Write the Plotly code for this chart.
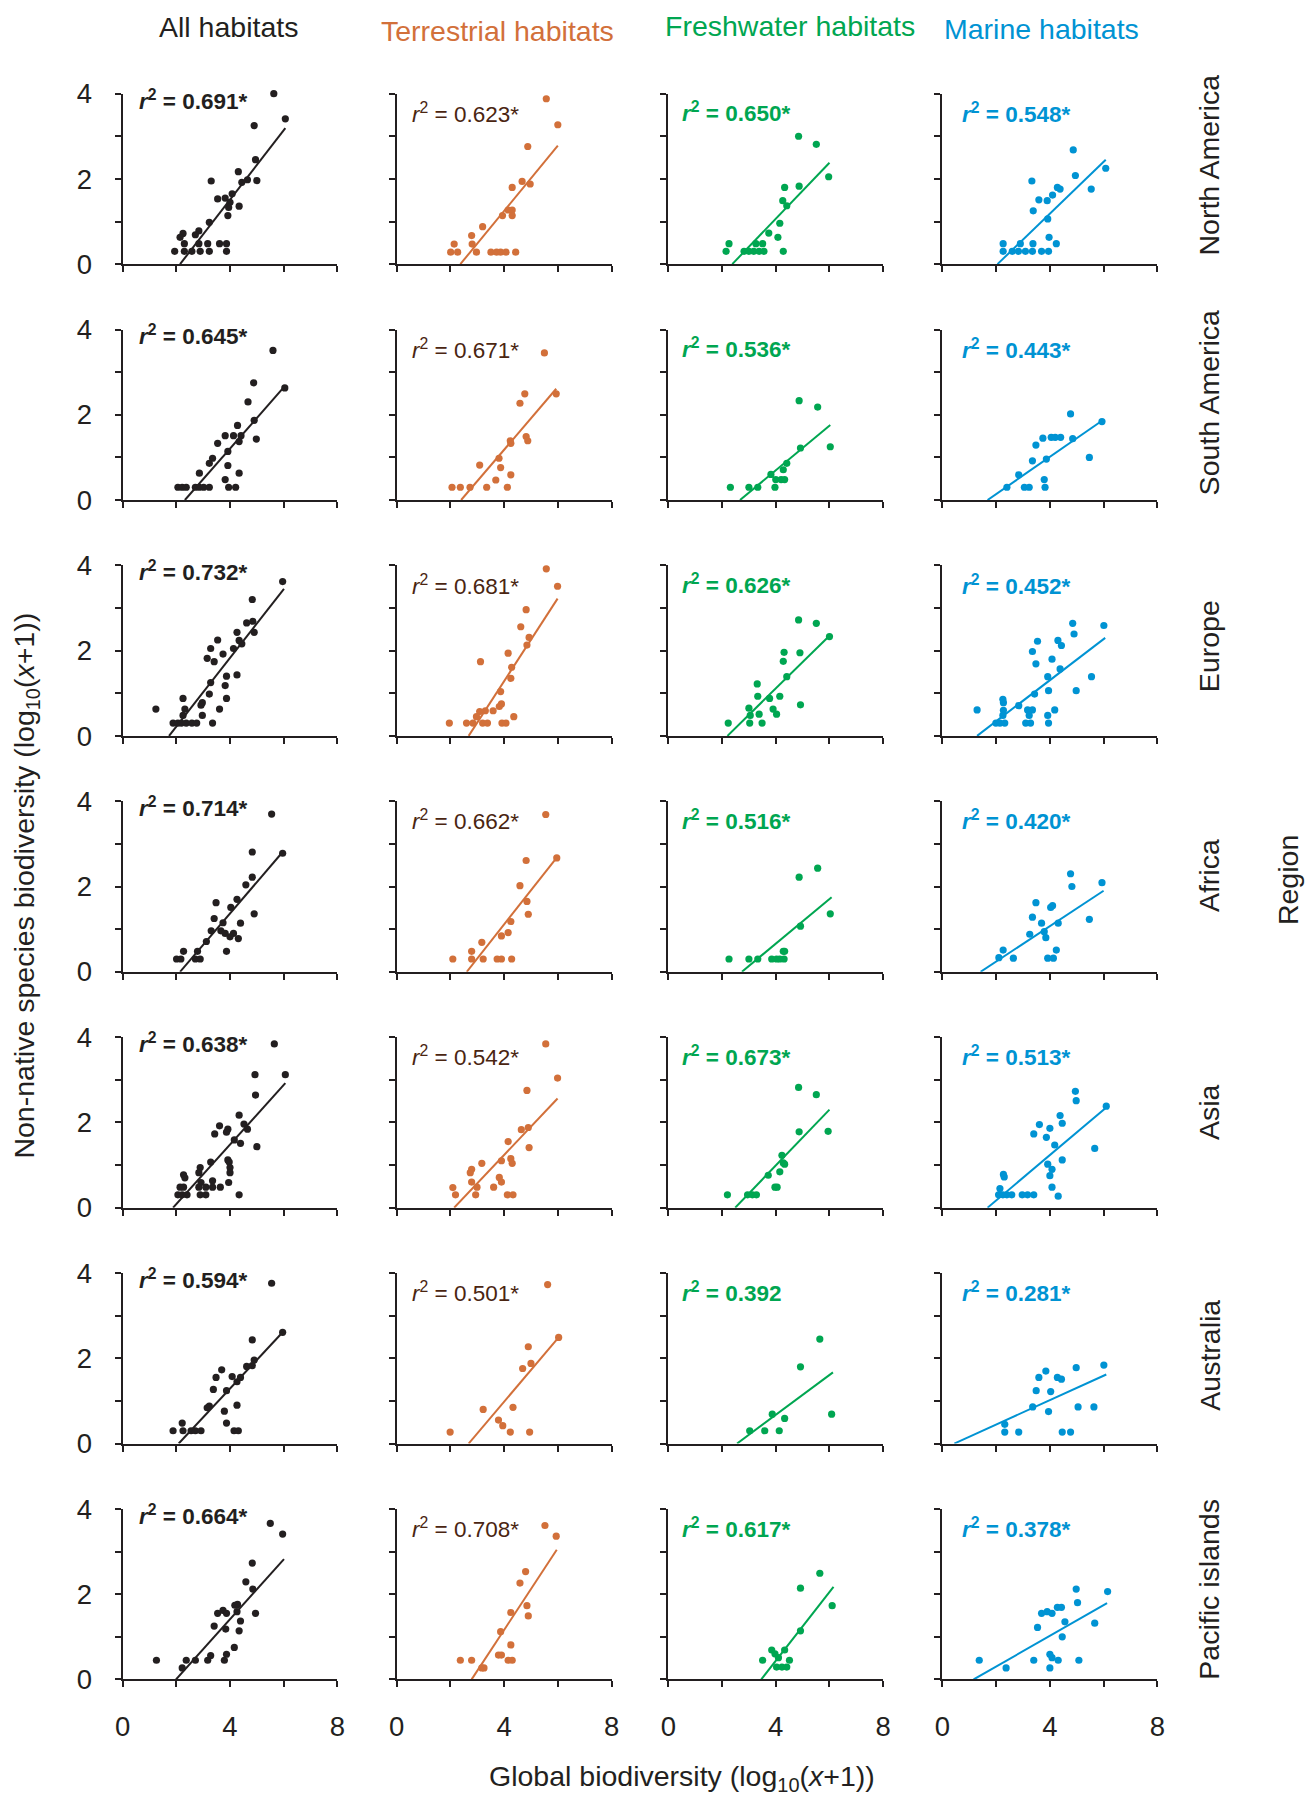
import plotly.graph_objects as go

# ---------------- categories ----------------
HABITATS = ["All habitats", "Terrestrial habitats", "Freshwater habitats", "Marine habitats"]
REGIONS = ["North America", "South America", "Europe", "Africa", "Asia", "Australia", "Pacific islands"]
X_TICKS = [0, 2, 4, 6, 8]
X_TICKTEXT = ["0", "", "4", "", "8"]
Y_TICKS = [0, 1, 2, 3, 4]
Y_TICKTEXT = ["0", "", "2", "", "4"]

# ---------------- North America ----------------
NA_ALL_X = [5.63, 6.06, 4.9, 4.95, 4.31, 4.44, 4.65, 5.0, 3.3, 4.08, 3.54, 3.82, 4.0, 4.34, 3.95, 3.92, 3.23, 2.84, 2.25, 2.14, 2.71, 2.3, 2.84, 3.17, 3.61, 3.87, 1.94, 2.3, 2.58, 2.89, 3.23, 3.87]
NA_ALL_Y = [4.0, 3.41, 3.25, 2.45, 2.17, 1.92, 1.98, 1.96, 1.95, 1.65, 1.53, 1.55, 1.45, 1.36, 1.33, 1.14, 0.98, 0.78, 0.72, 0.63, 0.69, 0.48, 0.48, 0.48, 0.48, 0.48, 0.3, 0.3, 0.3, 0.3, 0.3, 0.3]
NA_TER_X = [5.57, 6.0, 4.88, 4.67, 4.97, 4.3, 4.15, 4.3, 4.3, 3.94, 3.2, 2.79, 2.14, 2.81, 2.01, 2.27, 2.97, 3.51, 3.72, 3.87, 4.07, 4.43]
NA_TER_Y = [3.88, 3.27, 2.76, 1.94, 1.88, 1.8, 1.27, 1.27, 1.14, 1.14, 0.88, 0.67, 0.47, 0.47, 0.28, 0.28, 0.28, 0.28, 0.28, 0.28, 0.28, 0.28]
NA_FW_X = [4.85, 5.51, 5.97, 4.33, 4.87, 4.26, 4.41, 4.15, 3.74, 4.08, 2.26, 3.26, 3.51, 2.15, 2.82, 3.0, 3.18, 3.38, 3.56, 4.28]
NA_FW_Y = [3.0, 2.81, 2.05, 1.8, 1.83, 1.49, 1.37, 0.96, 0.73, 0.63, 0.48, 0.48, 0.48, 0.3, 0.3, 0.3, 0.3, 0.3, 0.3, 0.3]
NA_MAR_X = [4.87, 6.08, 4.95, 5.54, 3.33, 4.28, 4.38, 4.1, 3.59, 3.9, 3.38, 3.92, 3.97, 2.26, 2.9, 3.37, 4.24, 2.26, 2.6, 2.83, 3.09, 3.35, 3.69, 3.95]
NA_MAR_Y = [2.68, 2.25, 2.08, 1.76, 1.95, 1.8, 1.76, 1.62, 1.51, 1.49, 1.25, 1.06, 0.63, 0.48, 0.48, 0.48, 0.48, 0.3, 0.3, 0.3, 0.3, 0.3, 0.3, 0.3]
NA_LINE_X0 = [2.14, 2.37, 2.38, 2.05]
NA_LINE_X1 = [6.06, 6.0, 6.0, 6.08]
NA_LINE_Y1 = [3.19, 2.78, 2.38, 2.45]
NA_R2 = ["0.691*", "0.623*", "0.650*", "0.548*"]

# ---------------- South America ----------------
SA_ALL_X = [5.6, 6.04, 4.88, 4.67, 4.9, 4.28, 3.82, 4.13, 4.41, 3.54, 4.34, 4.98, 3.92, 3.35, 3.23, 3.92, 2.86, 4.34, 3.82, 2.06, 2.22, 2.37, 2.71, 2.86, 3.02, 3.23, 3.95, 4.21]
SA_ALL_Y = [3.51, 2.63, 2.75, 2.3, 1.87, 1.75, 1.51, 1.51, 1.51, 1.33, 1.37, 1.43, 1.14, 0.98, 0.86, 0.81, 0.63, 0.63, 0.48, 0.3, 0.3, 0.3, 0.3, 0.3, 0.3, 0.3, 0.3, 0.3]
SA_TER_X = [5.5, 5.94, 4.77, 4.59, 4.82, 4.88, 4.23, 4.25, 3.81, 3.09, 3.87, 4.25, 3.69, 2.06, 2.37, 2.73, 3.35, 4.12]
SA_TER_Y = [3.45, 2.49, 2.49, 2.27, 1.49, 1.39, 1.39, 1.33, 0.98, 0.82, 0.76, 0.59, 0.47, 0.3, 0.3, 0.3, 0.3, 0.3]
SA_FW_X = [4.87, 5.56, 6.03, 4.92, 4.41, 4.28, 3.82, 4.0, 4.2, 4.33, 2.31, 3.0, 3.33, 3.97]
SA_FW_Y = [2.33, 2.18, 1.25, 1.22, 0.86, 0.71, 0.6, 0.48, 0.48, 0.48, 0.3, 0.3, 0.3, 0.3]
SA_MAR_X = [4.77, 5.94, 4.05, 4.2, 4.4, 4.85, 3.74, 3.48, 5.47, 3.87, 3.35, 2.84, 3.79, 2.4, 3.05, 3.23, 3.82]
SA_MAR_Y = [2.02, 1.84, 1.47, 1.47, 1.47, 1.44, 1.45, 1.29, 1.0, 0.96, 0.92, 0.59, 0.48, 0.3, 0.3, 0.3, 0.3]
SA_LINE_X0 = [2.32, 2.4, 2.67, 1.68]
SA_LINE_X1 = [6.04, 5.94, 6.03, 5.94]
SA_LINE_Y1 = [2.67, 2.61, 1.76, 1.86]
SA_R2 = ["0.645*", "0.671*", "0.536*", "0.443*"]

# ---------------- Europe ----------------
EU_ALL_X = [5.55, 5.96, 4.83, 4.85, 4.62, 4.26, 4.34, 4.44, 4.9, 3.54, 3.28, 4.13, 3.74, 3.15, 3.41, 4.26, 3.87, 3.82, 3.28, 3.23, 3.87, 2.97, 2.25, 2.92, 3.61, 2.32, 1.24, 2.97, 2.25, 3.35, 1.88, 2.06, 2.19, 2.37, 2.58, 2.76]
EU_ALL_Y = [4.02, 3.62, 3.2, 2.69, 2.65, 2.43, 2.24, 2.16, 2.43, 2.25, 2.05, 2.05, 1.92, 1.82, 1.74, 1.43, 1.4, 1.18, 1.25, 0.98, 0.88, 0.78, 0.88, 0.72, 0.63, 0.63, 0.63, 0.48, 0.48, 0.3, 0.3, 0.3, 0.3, 0.3, 0.3, 0.3]
EU_TER_X = [5.57, 5.99, 4.82, 4.62, 4.93, 4.85, 3.12, 4.15, 4.28, 4.25, 3.87, 3.9, 3.82, 3.59, 3.09, 3.3, 2.97, 4.36, 1.96, 2.6, 2.84, 3.2, 3.38, 3.92, 4.07]
EU_TER_Y = [3.92, 3.51, 2.96, 2.56, 2.31, 2.13, 1.74, 1.94, 1.61, 1.35, 1.04, 0.75, 0.69, 0.59, 0.57, 0.59, 0.45, 0.45, 0.3, 0.3, 0.3, 0.3, 0.3, 0.3, 0.3]
EU_FW_X = [4.85, 5.51, 6.0, 4.31, 4.9, 4.28, 4.41, 3.31, 4.15, 3.33, 3.77, 4.92, 3.0, 3.9, 3.38, 4.03, 3.05, 2.23, 3.03, 3.49]
EU_FW_Y = [2.72, 2.64, 2.33, 1.96, 1.95, 1.75, 1.39, 1.22, 0.93, 0.93, 0.88, 0.73, 0.65, 0.63, 0.51, 0.51, 0.48, 0.3, 0.3, 0.3]
EU_MAR_X = [4.85, 6.01, 4.9, 3.54, 4.3, 4.43, 3.35, 4.08, 3.48, 4.38, 3.92, 5.55, 3.95, 4.98, 3.43, 2.25, 2.27, 1.29, 2.84, 2.27, 3.17, 3.35, 4.18, 2.25, 3.23, 3.92, 1.99, 2.14, 2.32, 3.1, 3.28, 3.95]
EU_MAR_Y = [2.64, 2.59, 2.39, 2.22, 2.24, 2.12, 1.98, 1.8, 1.69, 1.57, 1.39, 1.39, 1.06, 1.06, 0.98, 0.86, 0.78, 0.61, 0.71, 0.6, 0.61, 0.61, 0.61, 0.48, 0.48, 0.48, 0.3, 0.3, 0.3, 0.3, 0.3, 0.3]
EU_LINE_X0 = [1.73, 2.68, 2.2, 1.29]
EU_LINE_X1 = [6.01, 5.99, 6.0, 6.06]
EU_LINE_Y1 = [3.45, 3.22, 2.35, 2.3]
EU_R2 = ["0.732*", "0.681*", "0.626*", "0.452*"]

# ---------------- Africa ----------------
AF_ALL_X = [5.55, 4.83, 5.96, 4.83, 4.59, 4.26, 3.48, 4.03, 4.9, 3.41, 3.74, 4.39, 3.3, 3.66, 3.82, 4.13, 4.0, 4.31, 3.12, 3.87, 2.79, 2.27, 2.01, 2.17, 2.71, 2.89]
AF_ALL_Y = [3.7, 2.81, 2.78, 2.22, 2.04, 1.7, 1.62, 1.51, 1.36, 1.25, 1.15, 1.14, 0.96, 0.96, 0.9, 0.9, 0.82, 0.78, 0.71, 0.48, 0.48, 0.48, 0.3, 0.3, 0.3, 0.3]
AF_TER_X = [5.55, 4.82, 5.96, 4.59, 4.85, 4.9, 4.25, 4.15, 3.9, 3.17, 2.79, 2.09, 2.79, 3.22, 3.74, 3.9, 4.28]
AF_TER_Y = [3.69, 2.61, 2.67, 2.02, 1.65, 1.35, 1.18, 0.92, 0.84, 0.69, 0.48, 0.3, 0.3, 0.3, 0.3, 0.3, 0.3]
AF_FW_X = [5.56, 4.87, 6.03, 4.92, 4.28, 4.33, 2.26, 3.0, 3.33, 3.85, 4.03, 4.15, 4.31]
AF_FW_Y = [2.43, 2.22, 1.36, 1.07, 0.48, 0.48, 0.3, 0.3, 0.3, 0.3, 0.3, 0.3, 0.3]
AF_MAR_X = [4.77, 5.94, 4.82, 3.48, 4.1, 4.03, 3.35, 5.47, 3.69, 4.31, 3.79, 3.25, 3.85, 4.24, 2.26, 2.1, 2.64, 3.92, 4.13]
AF_MAR_Y = [2.3, 2.09, 2.0, 1.62, 1.55, 1.51, 1.28, 1.23, 1.14, 1.14, 0.94, 0.88, 0.8, 0.51, 0.51, 0.33, 0.32, 0.32, 0.32]
AF_LINE_X0 = [2.14, 2.61, 2.74, 1.42]
AF_LINE_X1 = [5.96, 5.96, 6.08, 6.0]
AF_LINE_Y1 = [2.81, 2.68, 1.75, 1.9]
AF_R2 = ["0.714*", "0.662*", "0.516*", "0.420*"]

# ---------------- Asia ----------------
AS_ALL_X = [5.65, 4.93, 6.06, 4.95, 4.34, 4.52, 4.65, 3.61, 3.92, 3.43, 3.87, 4.16, 4.39, 5.0, 3.92, 3.97, 3.28, 2.89, 4.0, 2.84, 4.0, 2.27, 2.32, 3.35, 3.95, 2.92, 3.1, 3.35, 3.64, 2.14, 2.27, 2.84, 4.34, 2.06, 2.22, 2.4, 2.89, 3.1]
AS_ALL_Y = [3.84, 3.12, 3.12, 2.64, 2.17, 1.96, 1.84, 1.92, 1.84, 1.73, 1.77, 1.59, 1.51, 1.43, 1.12, 1.07, 1.07, 0.94, 0.94, 0.82, 0.82, 0.77, 0.7, 0.63, 0.59, 0.59, 0.48, 0.48, 0.48, 0.48, 0.48, 0.48, 0.3, 0.3, 0.3, 0.3, 0.3, 0.3]
AS_TER_X = [5.55, 5.99, 4.85, 4.64, 4.9, 4.15, 4.93, 4.25, 4.3, 3.9, 3.17, 2.79, 2.74, 3.82, 2.79, 3.9, 2.09, 2.99, 3.61, 2.19, 2.94, 4.12, 4.33]
AS_TER_Y = [3.84, 3.04, 2.75, 1.83, 1.88, 1.55, 1.41, 1.15, 1.04, 1.1, 1.04, 0.9, 0.82, 0.71, 0.6, 0.6, 0.47, 0.48, 0.48, 0.3, 0.3, 0.3, 0.3]
AS_FW_X = [4.85, 5.51, 4.87, 5.95, 4.23, 4.33, 4.28, 3.72, 4.15, 3.97, 4.05, 2.2, 2.95, 3.13, 3.28]
AS_FW_Y = [2.82, 2.65, 1.78, 1.79, 1.23, 1.02, 1.05, 0.76, 0.84, 0.48, 0.48, 0.3, 0.3, 0.3, 0.3]
AS_MAR_X = [4.95, 4.98, 6.1, 4.38, 4.46, 3.61, 4.0, 3.4, 3.87, 4.18, 5.67, 4.46, 3.92, 4.08, 4.0, 2.27, 2.3, 4.08, 2.14, 4.31, 2.09, 2.25, 2.4, 2.58, 2.97, 3.17, 3.4]
AS_MAR_Y = [2.73, 2.51, 2.38, 2.16, 1.98, 1.95, 1.86, 1.73, 1.65, 1.47, 1.39, 1.12, 1.02, 0.9, 0.75, 0.78, 0.72, 0.48, 0.45, 0.27, 0.3, 0.3, 0.3, 0.3, 0.3, 0.3, 0.3]
AS_LINE_X0 = [1.88, 2.14, 2.49, 1.68]
AS_LINE_X1 = [6.06, 5.99, 6.0, 6.1]
AS_LINE_Y1 = [2.92, 2.56, 2.3, 2.35]
AS_R2 = ["0.638*", "0.542*", "0.673*", "0.513*"]

# ---------------- Australia ----------------
AU_ALL_X = [5.55, 5.96, 4.83, 4.83, 4.62, 4.9, 3.69, 4.08, 4.39, 3.48, 4.26, 3.38, 3.87, 3.23, 3.15, 4.26, 3.79, 3.87, 2.22, 1.88, 2.25, 2.55, 2.71, 2.92, 4.15, 4.31]
AU_ALL_Y = [3.76, 2.61, 2.43, 1.83, 1.81, 1.96, 1.73, 1.57, 1.55, 1.55, 1.45, 1.27, 1.24, 0.88, 0.84, 0.9, 0.76, 0.48, 0.48, 0.3, 0.3, 0.3, 0.3, 0.3, 0.3, 0.3]
AU_TER_X = [5.62, 6.03, 4.9, 5.0, 4.69, 4.33, 3.22, 3.79, 3.95, 1.99, 4.23, 4.95]
AU_TER_Y = [3.73, 2.49, 2.27, 1.88, 1.76, 0.85, 0.8, 0.55, 0.42, 0.27, 0.27, 0.27]
AU_FW_X = [5.64, 4.92, 3.87, 6.08, 4.33, 3.03, 3.59, 4.13]
AU_FW_Y = [2.45, 1.8, 0.69, 0.69, 0.59, 0.3, 0.3, 0.3]
AU_MAR_X = [6.01, 4.98, 3.85, 3.59, 4.28, 4.43, 3.49, 4.03, 3.36, 5.05, 5.64, 3.95, 2.32, 2.32, 2.84, 4.46, 4.77]
AU_MAR_Y = [1.84, 1.78, 1.7, 1.55, 1.55, 1.51, 1.24, 1.22, 0.86, 0.86, 0.86, 0.75, 0.45, 0.27, 0.27, 0.27, 0.27]
AU_LINE_X0 = [2.09, 2.68, 2.56, 0.44]
AU_LINE_X1 = [5.96, 6.03, 6.13, 6.1]
AU_LINE_Y1 = [2.61, 2.49, 1.67, 1.62]
AU_R2 = ["0.594*", "0.501*", "0.392", "0.281*"]

# ---------------- Pacific islands ----------------
PI_ALL_X = [5.5, 5.96, 4.83, 4.59, 4.85, 4.18, 4.28, 3.74, 3.54, 3.87, 4.26, 4.95, 4.39, 3.41, 3.84, 4.34, 4.16, 3.87, 3.79, 3.28, 3.17, 2.71, 2.37, 1.26, 2.22]
PI_ALL_Y = [3.66, 3.41, 2.73, 2.29, 2.12, 1.74, 1.76, 1.62, 1.55, 1.55, 1.59, 1.55, 1.37, 1.25, 1.18, 1.14, 0.75, 0.59, 0.45, 0.56, 0.45, 0.45, 0.45, 0.45, 0.27]
PI_TER_X = [5.52, 5.94, 4.8, 4.59, 4.85, 4.25, 4.9, 3.87, 4.25, 3.79, 3.9, 2.37, 2.79, 4.15, 4.3, 3.17, 3.25]
PI_TER_Y = [3.61, 3.36, 2.53, 2.26, 1.73, 1.57, 1.49, 1.12, 0.81, 0.57, 0.57, 0.45, 0.45, 0.45, 0.45, 0.27, 0.27]
PI_FW_X = [5.64, 4.92, 6.1, 4.92, 3.85, 3.97, 4.33, 3.51, 4.51, 4.1, 4.03, 4.23, 4.41]
PI_FW_Y = [2.49, 2.14, 1.73, 1.14, 0.69, 0.6, 0.69, 0.45, 0.45, 0.51, 0.29, 0.29, 0.29]
PI_MAR_X = [4.98, 6.15, 5.03, 4.28, 4.43, 3.69, 3.9, 4.08, 4.56, 5.67, 3.54, 4.46, 4.0, 4.08, 3.4, 4.31, 5.08, 1.37, 2.37, 4.0]
PI_MAR_Y = [2.12, 2.06, 1.8, 1.69, 1.69, 1.55, 1.59, 1.55, 1.35, 1.32, 1.22, 1.0, 0.59, 0.51, 0.45, 0.45, 0.45, 0.45, 0.27, 0.27]
PI_LINE_X0 = [1.99, 2.79, 3.46, 1.16]
PI_LINE_X1 = [6.01, 5.96, 6.15, 6.13]
PI_LINE_Y1 = [2.82, 3.04, 2.17, 1.79]
PI_R2 = ["0.664*", "0.708*", "0.617*", "0.378*"]

# ---------------- assemble ----------------
PANELS_X = [
    [NA_ALL_X, NA_TER_X, NA_FW_X, NA_MAR_X],
    [SA_ALL_X, SA_TER_X, SA_FW_X, SA_MAR_X],
    [EU_ALL_X, EU_TER_X, EU_FW_X, EU_MAR_X],
    [AF_ALL_X, AF_TER_X, AF_FW_X, AF_MAR_X],
    [AS_ALL_X, AS_TER_X, AS_FW_X, AS_MAR_X],
    [AU_ALL_X, AU_TER_X, AU_FW_X, AU_MAR_X],
    [PI_ALL_X, PI_TER_X, PI_FW_X, PI_MAR_X],
]
PANELS_Y = [
    [NA_ALL_Y, NA_TER_Y, NA_FW_Y, NA_MAR_Y],
    [SA_ALL_Y, SA_TER_Y, SA_FW_Y, SA_MAR_Y],
    [EU_ALL_Y, EU_TER_Y, EU_FW_Y, EU_MAR_Y],
    [AF_ALL_Y, AF_TER_Y, AF_FW_Y, AF_MAR_Y],
    [AS_ALL_Y, AS_TER_Y, AS_FW_Y, AS_MAR_Y],
    [AU_ALL_Y, AU_TER_Y, AU_FW_Y, AU_MAR_Y],
    [PI_ALL_Y, PI_TER_Y, PI_FW_Y, PI_MAR_Y],
]
LINES_X0 = [NA_LINE_X0, SA_LINE_X0, EU_LINE_X0, AF_LINE_X0, AS_LINE_X0, AU_LINE_X0, PI_LINE_X0]
LINES_X1 = [NA_LINE_X1, SA_LINE_X1, EU_LINE_X1, AF_LINE_X1, AS_LINE_X1, AU_LINE_X1, PI_LINE_X1]
LINES_Y1 = [NA_LINE_Y1, SA_LINE_Y1, EU_LINE_Y1, AF_LINE_Y1, AS_LINE_Y1, AU_LINE_Y1, PI_LINE_Y1]
R2_LABELS = [NA_R2, SA_R2, EU_R2, AF_R2, AS_R2, AU_R2, PI_R2]

# ---------------- styles / layout geometry (pixels) ----------------
W, H = 1311, 1805
FONT = "Liberation Sans, Arial, Helvetica, sans-serif"
INK = "#231F20"
DOT_COLORS = ["#231F20", "#D2703A", "#00A651", "#0093D3"]
TITLE_COLORS = ["#231F20", "#D2703A", "#00A651", "#0093D3"]
R2_COLORS = ["#231F20", "#4A2511", "#00A651", "#0093D3"]
R2_BOLD = [True, False, True, True]
COL_LEFT_PX = [116, 393.5, 668.5, 946]
PANEL_W_PX = 217.5
ROW_TOP_PX = 80
ROW_STEP_PX = 240
PANEL_H_PX = 173.5
TITLE_X_PX = [223, 496, 792, 1046]
TITLE_Y_PX = [12, 16, 11, 14]
ROWLAB_X_PX = 1216
ROWLAB_Y_PX = [153, 395, 642, 876, 1116, 1364, 1602]
R2_X = [0.55, 0.5, 0.42, 0.65]
R2_Y = [3.86, 3.55, 3.56, 3.55]

fig = go.Figure()
layout = dict(
    width=W, height=H, autosize=False,
    margin=dict(l=0, r=0, t=0, b=0),
    paper_bgcolor="white", plot_bgcolor="white",
    showlegend=False,
    font=dict(family=FONT, color=INK),
)
annotations = []

for r in range(7):
    for c in range(4):
        n = r * 4 + c + 1
        xa = "x" if n == 1 else f"x{n}"
        ya = "y" if n == 1 else f"y{n}"
        x0 = COL_LEFT_PX[c] / W
        x1 = (COL_LEFT_PX[c] + PANEL_W_PX) / W
        top = ROW_TOP_PX + r * ROW_STEP_PX
        y1 = 1 - top / H
        y0 = 1 - (top + PANEL_H_PX) / H
        last_row = r == 6
        layout["xaxis" if n == 1 else f"xaxis{n}"] = dict(
            domain=[x0, x1], range=[0, 8], anchor=ya,
            showline=True, linecolor=INK, linewidth=2,
            ticks="outside", ticklen=6, tickwidth=2, tickcolor=INK,
            tickvals=X_TICKS, ticktext=X_TICKTEXT,
            showticklabels=last_row, ticklabelstandoff=16,
            tickfont=dict(size=27.5, color=INK, family=FONT),
            showgrid=False, zeroline=False, fixedrange=True,
        )
        layout["yaxis" if n == 1 else f"yaxis{n}"] = dict(
            domain=[y0, y1], range=[0, 4], anchor=xa,
            showline=True, linecolor=INK, linewidth=2,
            ticks="outside", ticklen=6, tickwidth=2, tickcolor=INK,
            tickvals=Y_TICKS, ticktext=Y_TICKTEXT,
            showticklabels=(c == 0), ticklabelstandoff=17,
            tickfont=dict(size=27.5, color=INK, family=FONT),
            showgrid=False, zeroline=False, fixedrange=True,
        )
        fig.add_trace(go.Scatter(
            x=PANELS_X[r][c], y=PANELS_Y[r][c], mode="markers",
            marker=dict(size=7.2, color=DOT_COLORS[c], line=dict(width=0)),
            xaxis=xa, yaxis=ya, cliponaxis=False, hoverinfo="skip",
        ))
        fig.add_trace(go.Scatter(
            x=[LINES_X0[r][c], LINES_X1[r][c]], y=[0, LINES_Y1[r][c]], mode="lines",
            line=dict(color=DOT_COLORS[c], width=2),
            xaxis=xa, yaxis=ya, cliponaxis=False, hoverinfo="skip",
        ))
        txt = f"<i>r</i><sup>2</sup> = {R2_LABELS[r][c]}"
        if R2_BOLD[c]:
            txt = f"<b>{txt}</b>"
        annotations.append(dict(
            text=txt, xref=xa, yref=ya, x=R2_X[c], y=R2_Y[c],
            xanchor="left", yanchor="middle", showarrow=False,
            font=dict(size=22.5, color=R2_COLORS[c], family=FONT),
        ))

# column titles
for c, name in enumerate(HABITATS):
    annotations.append(dict(
        text=name, xref="paper", yref="paper",
        x=TITLE_X_PX[c] / W, y=1 - TITLE_Y_PX[c] / H,
        xanchor="center", yanchor="middle", showarrow=False,
        font=dict(size=28.5, color=TITLE_COLORS[c], family=FONT),
    ))

# row labels
for r, name in enumerate(REGIONS):
    annotations.append(dict(
        text=name, xref="paper", yref="paper",
        x=ROWLAB_X_PX / W, y=1 - ROWLAB_Y_PX[r] / H, textangle=-90,
        xanchor="center", yanchor="middle", showarrow=False,
        font=dict(size=28.5, color=INK, family=FONT),
    ))

annotations.append(dict(
    text="Region", xref="paper", yref="paper", x=1296 / W, y=1 - 880 / H,
    textangle=-90, xanchor="center", yanchor="middle", showarrow=False,
    font=dict(size=28.5, color=INK, family=FONT),
))
annotations.append(dict(
    text="Non-native species biodiversity (log<sub>10</sub>(<i>x</i>+1))",
    xref="paper", yref="paper", x=18 / W, y=1 - 886 / H,
    textangle=-90, xanchor="center", yanchor="middle", showarrow=False,
    font=dict(size=28.5, color=INK, family=FONT),
))
annotations.append(dict(
    text="Global biodiversity (log<sub>10</sub>(<i>x</i>+1))",
    xref="paper", yref="paper", x=682 / W, y=1 - 1794 / H,
    xanchor="center", yanchor="middle", showarrow=False,
    font=dict(size=28.5, color=INK, family=FONT),
))

layout["annotations"] = annotations
fig.update_layout(**layout)
fig.write_html(
    "out.html",
    config={"displayModeBar": False},
    post_script="document.body.style.margin='0px';document.body.style.padding='0px';document.body.style.overflow='hidden';",
)
